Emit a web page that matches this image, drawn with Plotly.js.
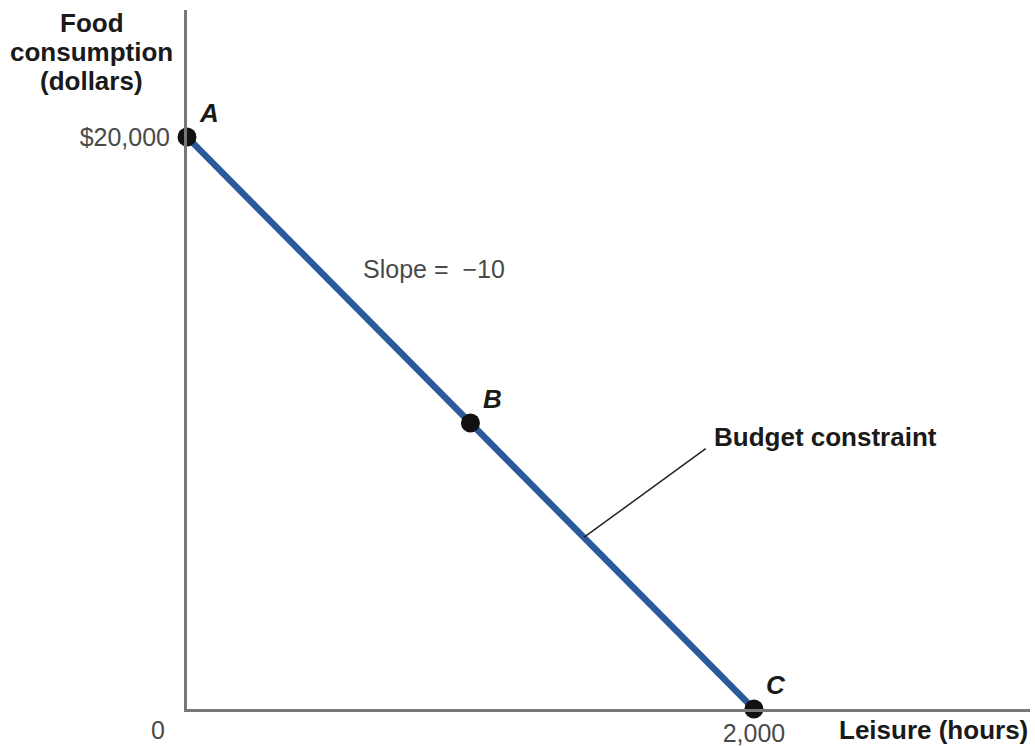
<!DOCTYPE html>
<html>
<head>
<meta charset="utf-8">
<script src="https://cdn.plot.ly/plotly-3.0.1.min.js"></script>
<style>html,body{margin:0;padding:0;background:#fff;}#chart{width:1035px;height:748px;}</style>
</head>
<body>
<div id="chart"></div>
<script>
// Data
const leisure = [0, 1000, 2000];          // hours
const food = [20000, 10000, 0];           // dollars
const pointLabels = ['A', 'B', 'C'];
const xTickVals = [2000];
const xTickText = ['2,000'];
const yTickVals = [20000];
const yTickText = ['$20,000'];
const yTitleLines = ['Food', 'consumption', '(dollars)'];
const slopeLabel = 'Slope =  \u221210';
const curveLabel = 'Budget constraint';
const leaderFrom = [1400, 6000];
const leaderTo = [1830, 9100];
const slopePos = [870, 15400];
const curveLabelPos = [1852, 9500];

const boldFont = {family: 'Liberation Sans, Arial, sans-serif', size: 26, color: '#1a1a1a'};
const regFont = {family: 'Liberation Sans, Arial, sans-serif', size: 25, color: '#4a4a4a'};

const traces = [{
  x: leisure, y: food, type: 'scatter', mode: 'lines+markers',
  line: {color: '#2b5a9c', width: 6.5},
  marker: {color: '#111', size: 19},
  cliponaxis: false, hoverinfo: 'none'
}];

const annotations = pointLabels.map((t, i) => ({
  x: leisure[i], y: food[i], xref: 'x', yref: 'y', text: '<b><i>' + t + '</i></b>',
  showarrow: false, xshift: 22, yshift: 24, font: boldFont
}));
annotations.push({x: 0, y: 0, xref: 'x', yref: 'y', text: '0', showarrow: false, xshift: -29, yshift: -21, font: regFont});
annotations.push({x: slopePos[0], y: slopePos[1], xref: 'x', yref: 'y', text: slopeLabel, showarrow: false, font: regFont});
annotations.push({x: curveLabelPos[0], y: curveLabelPos[1], xref: 'x', yref: 'y', text: '<b>' + curveLabel + '</b>', showarrow: false, xanchor: 'left', font: boldFont});
yTitleLines.forEach((t, i) => {
  annotations.push({x: -0.113, y: 1.0, xref: 'paper', yref: 'paper', xanchor: 'center', yanchor: 'middle',
    yshift: -13 - 29 * i, text: '<b>' + t + '</b>', showarrow: false, font: boldFont});
});
annotations.push({x: 1.0, y: 0, xref: 'paper', yref: 'y', xanchor: 'right', yanchor: 'top', yshift: -4,
  text: '<b>Leisure (hours)</b>', showarrow: false, font: boldFont});

const layout = {
  width: 1035, height: 748,
  margin: {l: 187, r: 5, t: 10, b: 39},
  paper_bgcolor: '#fff', plot_bgcolor: '#fff',
  showlegend: false,
  xaxis: {range: [0, 2974], showgrid: false, zeroline: false, showline: true, linecolor: '#777', linewidth: 3,
    tickvals: xTickVals, ticktext: xTickText, ticks: '', tickfont: regFont, fixedrange: true},
  yaxis: {range: [0, 24440], showgrid: false, zeroline: false, showline: true, linecolor: '#777', linewidth: 3,
    tickvals: yTickVals, ticktext: yTickText, ticks: '', tickfont: regFont, ticklabelstandoff: 9, fixedrange: true},
  shapes: [{type: 'line', xref: 'x', yref: 'y', x0: leaderFrom[0], y0: leaderFrom[1], x1: leaderTo[0], y1: leaderTo[1],
    line: {color: '#222', width: 1.5}}],
  annotations: annotations
};
Plotly.newPlot('chart', traces, layout, {displayModeBar: false, staticPlot: true});
</script>
</body>
</html>
